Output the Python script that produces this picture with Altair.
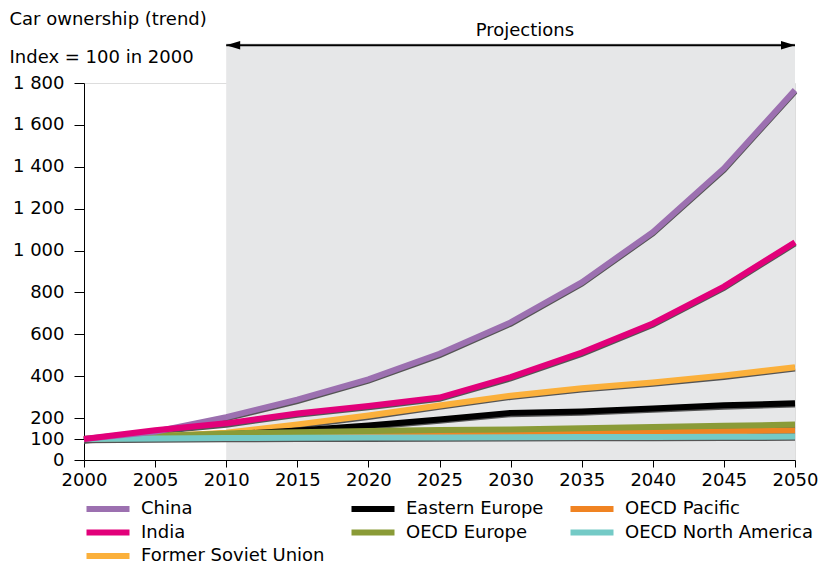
import altair as alt
import pandas as pd

FONT = "DejaVu Sans"
FS = 18

years = [2000, 2005, 2010, 2015, 2020, 2025, 2030, 2035, 2040, 2045, 2050]
china = [100, 135, 205, 288, 385, 507, 657, 848, 1088, 1392, 1766]
india = [100, 142, 175, 222, 258, 298, 396, 513, 652, 828, 1040]
fsu = [100, 112, 130, 170, 212, 260, 307, 343, 370, 403, 443]
eastern_europe = [100, 110, 122, 141, 165, 193, 225, 232, 246, 261, 271]
oecd_europe = [100, 115, 127, 133, 139, 143, 146, 151, 157, 163, 169]
oecd_pacific = [100, 108, 112, 116, 120, 123, 126, 129, 133, 137, 141]
oecd_na = [100, 103, 105, 106, 107, 108, 109, 110, 110, 111, 112]

series = {
    "China": china,
    "India": india,
    "Former Soviet Union": fsu,
    "Eastern Europe": eastern_europe,
    "OECD Europe": oecd_europe,
    "OECD Pacific": oecd_pacific,
    "OECD North America": oecd_na,
}
colors = {
    "China": "#9c70b0",
    "India": "#e2007a",
    "Former Soviet Union": "#fbb03b",
    "Eastern Europe": "#000000",
    "OECD Europe": "#8a9b37",
    "OECD Pacific": "#f08322",
    "OECD North America": "#74cac6",
}
legend_order = ["China", "Eastern Europe", "OECD Pacific", "India", "OECD Europe",
                "OECD North America", "Former Soviet Union"]
draw_order = ["Former Soviet Union", "Eastern Europe", "OECD Pacific", "OECD Europe",
              "OECD North America", "China", "India"]

y_ticks = [0, 100, 200, 400, 600, 800, 1000, 1200, 1400, 1600, 1800]
proj_start, proj_end = 2010, 2050
band_top = 1990
arrow_level = 1980
label_level = 2050
label_year = 2031

rows = []
for name, vals in series.items():
    for yr, v in zip(years, vals):
        rows.append({"year": yr, "value": v, "series": name})
df = pd.DataFrame(rows)

xscale = alt.Scale(domain=[2000, 2050], nice=False, zero=False)
yscale = alt.Scale(domain=[0, 1800], nice=False)
cscale = alt.Scale(domain=legend_order, range=[colors[n] for n in legend_order])

x_axis = alt.Axis(values=years, format="d", tickSize=7, labelPadding=4,
                  grid=False, title=None, labelFlush=False, labelOverlap=False)
y_axis = alt.Axis(values=y_ticks,
                  labelExpr="replace(format(datum.value, ','), ',', ' ')",
                  tickSize=10, labelPadding=10, grid=False, labelFlush=False,
                  labelOverlap=False,
                  title=["Car ownership (trend)", "Index = 100 in 2000"],
                  titleAngle=0, titleX=-75, titleY=-73, titleAlign="left",
                  titleBaseline="top", titleFontWeight="normal",
                  titleFontSize=FS, titleFont=FONT, titleColor="black",
                  titleLineHeight=38)

band_df = pd.DataFrame({"x": [proj_start], "x2": [proj_end], "y": [0], "y2": [band_top]})
band = alt.Chart(band_df).mark_rect(color="#e6e7e8").encode(
    x=alt.X("x:Q", scale=xscale, axis=x_axis),
    x2="x2:Q",
    y=alt.Y("y:Q", scale=yscale, axis=y_axis),
    y2="y2:Q",
)

arrow_df = pd.DataFrame({"x": [proj_start], "x2": [proj_end], "y": [arrow_level]})
arrow_line = alt.Chart(arrow_df).mark_rule(color="black", strokeWidth=2).encode(
    x=alt.X("x:Q", scale=xscale, axis=x_axis), x2="x2:Q",
    y=alt.Y("y:Q", scale=yscale, axis=y_axis))

head_l = alt.Chart(pd.DataFrame({"x": [proj_start], "y": [arrow_level]})).mark_point(
    shape="M0,0L1,-0.3L1,0.3Z", size=784, filled=True, color="black", opacity=1
).encode(x=alt.X("x:Q", scale=xscale, axis=x_axis), y=alt.Y("y:Q", scale=yscale, axis=y_axis))
head_r = alt.Chart(pd.DataFrame({"x": [proj_end], "y": [arrow_level]})).mark_point(
    shape="M0,0L-1,-0.3L-1,0.3Z", size=784, filled=True, color="black", opacity=1
).encode(x=alt.X("x:Q", scale=xscale, axis=x_axis), y=alt.Y("y:Q", scale=yscale, axis=y_axis))

proj_text = alt.Chart(pd.DataFrame({"x": [label_year], "y": [label_level], "t": ["Projections"]})).mark_text(
    font=FONT, fontSize=FS, color="black", baseline="middle", align="center"
).encode(x=alt.X("x:Q", scale=xscale, axis=x_axis), y=alt.Y("y:Q", scale=yscale, axis=y_axis), text="t:N")

shadow = alt.Chart(df).mark_line(color="#555555", strokeWidth=6, yOffset=1.3).encode(
    x=alt.X("year:Q", scale=xscale, axis=x_axis),
    y=alt.Y("value:Q", scale=yscale, axis=y_axis), detail="series:N")

legend = alt.Legend(orient="bottom", columns=3, title=None,
                    symbolType="M-1,-0.3L7,-0.3L7,0.3L-1,0.3Z", symbolSize=100,
                    symbolStrokeWidth=3,
                    labelFontSize=FS, labelFont=FONT, labelOffset=39,
                    columnPadding=22, rowPadding=5.5, offset=11,
                    labelColor="black", labelLimit=0)

line_layers = []
for name in draw_order:
    line_layers.append(
        alt.Chart(df).transform_filter(alt.datum.series == name).mark_line(strokeWidth=6).encode(
            x=alt.X("year:Q", scale=xscale, axis=x_axis),
            y=alt.Y("value:Q", scale=yscale, axis=y_axis),
            color=alt.Color("series:N", scale=cscale, legend=legend),
        )
    )

chart = alt.layer(band, arrow_line, head_l, head_r, proj_text, shadow, *line_layers).properties(
    width=711, height=377,
    padding={"left": 1, "top": 2, "right": 0, "bottom": 0},
).configure_view(stroke=None).configure(font=FONT).configure_axis(
    labelFontSize=FS, labelFont=FONT, labelColor="black",
    domainColor="black", tickColor="black", labelOverlap=False
)

chart.save("out.html", embed_options={"renderer": "svg", "actions": False})
